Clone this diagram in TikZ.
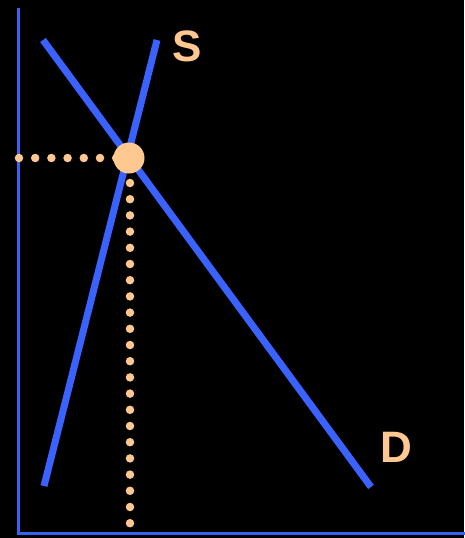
\documentclass[tikz,border=0pt]{standalone}
\usepackage{fontspec}
\setmainfont{Liberation Sans}
\begin{document}
\begin{tikzpicture}[x=1pt,y=-1pt,
  axis/.style={draw=axisblue,line width=3pt},
  curve/.style={draw=curveblue,line width=7pt},
  dotline/.style={draw=peach,line width=8.5pt,line cap=round,dash pattern=on 0pt off 16.2pt},
  lbl/.style={text=peach,font=\bfseries\fontsize{44}{44}\selectfont,inner sep=0pt}]
\definecolor{axisblue}{HTML}{3A62F0}
\definecolor{curveblue}{HTML}{3A62FF}
\definecolor{peach}{HTML}{FFC890}
\fill[black] (0,0) rectangle (464,538);
\useasboundingbox (0,0) rectangle (464,538);
\coordinate (o) at (18,533);
\coordinate (ytop) at (18,8);
\coordinate (xend) at (466,533);
\draw[axis] (ytop) -- (o) -- (xend);
\coordinate (s1) at (44,486);
\coordinate (s2) at (157,40);
\coordinate (d1) at (43,40);
\coordinate (d2) at (371,487);
\draw[curve] (s1) -- (s2);
\draw[curve] (d1) -- (d2);
\coordinate (eq) at (129,158);
\coordinate (hy) at (19,158);
\coordinate (hx) at (130,524);
\draw[dotline] (hy) -- (eq);
\draw[dotline] (130,183) -- (hx);
\fill[peach] (eq) circle (15.5);
\node[lbl] (S) at (187,46) {S};
\node[lbl] (D) at (396,447) {D};
\end{tikzpicture}
\end{document}
